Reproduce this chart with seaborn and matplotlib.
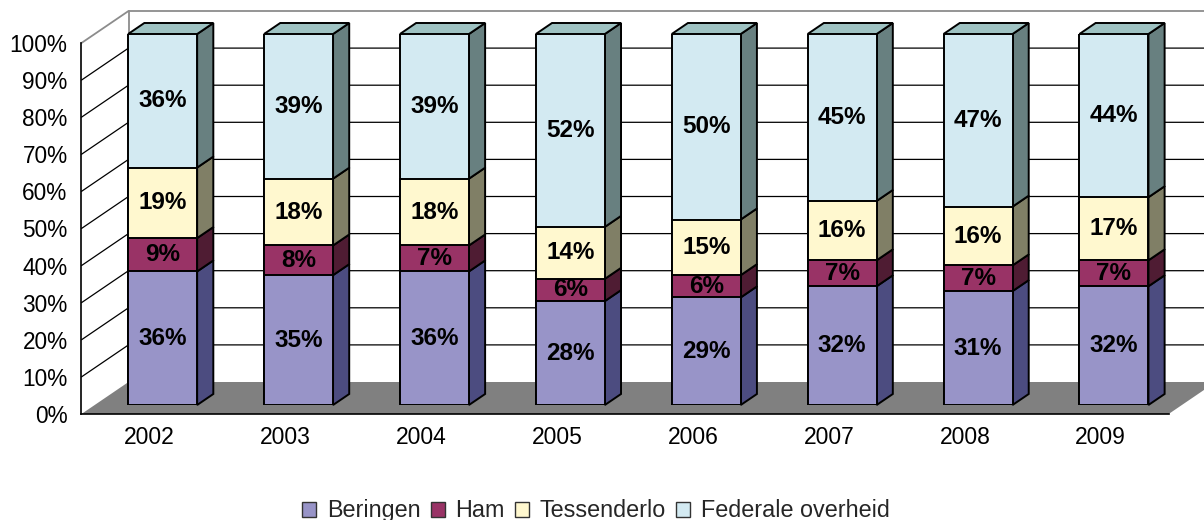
import numpy as np
import pandas as pd
import matplotlib
matplotlib.use("Agg")
import matplotlib.pyplot as plt
from matplotlib.patches import Polygon, Patch
import seaborn as sns

# ---- data -------------------------------------------------------------
years = ["2002", "2003", "2004", "2005", "2006", "2007", "2008", "2009"]
series = ["Beringen", "Ham", "Tessenderlo", "Federale overheid"]
beringen = [36, 35, 36, 28, 29, 32, 31, 32]
ham = [9, 8, 7, 6, 6, 7, 7, 7]
tessenderlo = [19, 18, 18, 14, 15, 16, 16, 17]
federale = [36, 39, 39, 52, 50, 45, 47, 44]
y_ticks = [0, 10, 20, 30, 40, 50, 60, 70, 80, 90, 100]

# ---- style ------------------------------------------------------------
front_colors = ["#9894c8", "#993366", "#fff8cf", "#d3eaf2"]
side_colors = ["#4c4c80", "#4f1c33", "#807f66", "#688080"]
top_color = "#9ec2c2"
floor_color = "#808080"
border_color = "#8c8c8c"

sns.set_theme(style="white")
plt.rcParams["font.family"] = ["Liberation Sans", "DejaVu Sans"]

# long table, each year normalised to 100 % (100 % stacked columns)
values = np.array([beringen, ham, tessenderlo, federale], dtype=float)
shares = values / values.sum(axis=0) * 100
tops = np.cumsum(shares, axis=0)
bottoms = tops - shares
df = pd.DataFrame(
    [
        dict(year=y, series=s, value=values[k, i], share=shares[k, i],
             bottom=bottoms[k, i], top=tops[k, i])
        for k, s in enumerate(series)
        for i, y in enumerate(years)
    ]
)

# ---- figure geometry (pixels) -----------------------------------------
W, H = 1204, 520
fig = plt.figure(figsize=(W / 100, H / 100), dpi=100)
fig.patch.set_facecolor("white")

n = len(years)
plane_left, plane_bottom = 94.7, 115.0      # front face plane of the columns
plane_w, plane_h = 1087.2, 371.0
sx, sy = plane_w / n, plane_h / 100.0        # pixels per category / per %
slant = 1.47                                 # x pixels per y pixel of depth
FRONT_D, BACK_D, WALL_D = -9.0, 11.0, 23.0    # depth of axis plane, column back, walls

ax = fig.add_axes([plane_left / W, plane_bottom / H, plane_w / W, plane_h / H])
ax.patch.set_visible(False)


def at(x, y, d):
    """data point (x, y) pushed back by depth d (pixels)."""
    return (x + d * slant / sx, y + d / sy)


x0, x1 = -0.5, n - 0.5

# walls
back_wall = Polygon([at(x0, 0, WALL_D), at(x1 + 1, 0, WALL_D),
                     at(x1 + 1, 100, WALL_D), at(x0, 100, WALL_D)],
                    closed=True, facecolor="white", edgecolor="none",
                    zorder=0, clip_on=False)
side_wall = Polygon([at(x0, 0, FRONT_D), at(x0, 0, WALL_D),
                     at(x0, 100, WALL_D), at(x0, 100, FRONT_D)],
                    closed=True, facecolor="white", edgecolor="none",
                    zorder=0, clip_on=False)
ax.add_patch(back_wall)
ax.add_patch(side_wall)

# gridlines running over the side wall and the back wall
for t in y_ticks[1:]:
    pts = [at(x0, t, FRONT_D), at(x0, t, WALL_D), at(x1 + 1, t, WALL_D)]
    xs, ys = zip(*pts)
    ax.plot(xs, ys, color="black" if t < 100 else border_color,
            lw=0.9 if t < 100 else 1.3, zorder=1, clip_on=False)
xs, ys = zip(at(x0, 0, WALL_D), at(x0, 100, WALL_D))
ax.plot(xs, ys, color=border_color, lw=1.3, zorder=1, clip_on=False)

# floor
floor = Polygon([at(x0, 0, FRONT_D), at(x1, 0, FRONT_D),
                 at(x1, 0, WALL_D), at(x0, 0, WALL_D)],
                closed=True, facecolor=floor_color, edgecolor="none",
                zorder=2, clip_on=False)
ax.add_patch(floor)

# ---- columns: side and top faces ------------------------------------------
bar_w = 69.0 / sx
for k in range(len(series)):
    for i in range(n):
        b, t = bottoms[k, i], tops[k, i]
        xr = i + bar_w / 2
        side = Polygon([(xr, b), at(xr, b, BACK_D), at(xr, t, BACK_D), (xr, t)],
                       closed=True, facecolor=side_colors[k], edgecolor="black",
                       lw=1.4, zorder=4, clip_on=False)
        ax.add_patch(side)
        if k == len(series) - 1:
            xl = i - bar_w / 2
            top = Polygon([(xl, t), (xr, t), at(xr, t, BACK_D), at(xl, t, BACK_D)],
                          closed=True, facecolor=top_color, edgecolor="black",
                          lw=1.4, zorder=4, clip_on=False)
            ax.add_patch(top)

# ---- columns: front faces (stacked by overdrawing cumulative totals) -------
for k in reversed(range(len(series))):
    sub = df[df["series"] == series[k]]
    sns.barplot(data=sub, x="year", y="top", order=years, color=front_colors[k],
                width=bar_w, edgecolor="black", linewidth=1.4, saturation=1,
                errorbar=None, zorder=5, ax=ax)

for _, r in df.iterrows():
    i = years.index(r["year"])
    ax.text(i, (r["bottom"] + r["top"]) / 2, f"{r['value']:.0f}%",
            ha="center", va="center", fontsize=17.5, fontweight="bold",
            color="black", zorder=6)

ax.set_xlim(x0, x1)
ax.set_ylim(0, 100)
ax.set_axis_off()

# ---- front axis plane -----------------------------------------------------
axf = fig.add_axes([(plane_left + FRONT_D * slant) / W, (plane_bottom + FRONT_D) / H,
                    plane_w / W, plane_h / H])
axf.patch.set_visible(False)
axf.set_xlim(x0, x1)
axf.set_ylim(0, 100)
for s in ["top", "right"]:
    axf.spines[s].set_visible(False)
for s in ["left", "bottom"]:
    axf.spines[s].set_color("black")
    axf.spines[s].set_linewidth(1.2)
axf.set_yticks(y_ticks)
axf.set_yticklabels([f"{t}%" for t in y_ticks], fontsize=16.3)
axf.set_xticks(np.arange(n + 1) - 0.5)
axf.set_xticklabels([])
axf.set_xticks(np.arange(n), minor=True)
axf.set_xticklabels(years, minor=True, fontsize=16.5)
axf.tick_params(axis="y", direction="out", length=6, width=1.2, pad=4, colors="black")
axf.tick_params(axis="x", which="major", direction="out", length=6, width=1.2, colors="black")
axf.tick_params(axis="x", which="minor", length=0, pad=9, colors="black")
axf.grid(False)

# ---- legend -----------------------------------------------------------
handles = [Patch(facecolor=c, edgecolor="#333333", linewidth=1.0) for c in front_colors]
fig.legend(handles, series, loc="lower center", bbox_to_anchor=(0.495, -0.045),
           ncol=4, frameon=False, fontsize=16.8, handlelength=0.6,
           handleheight=0.6, handletextpad=0.45, columnspacing=0.45)

fig.savefig("out.png", dpi=100)
